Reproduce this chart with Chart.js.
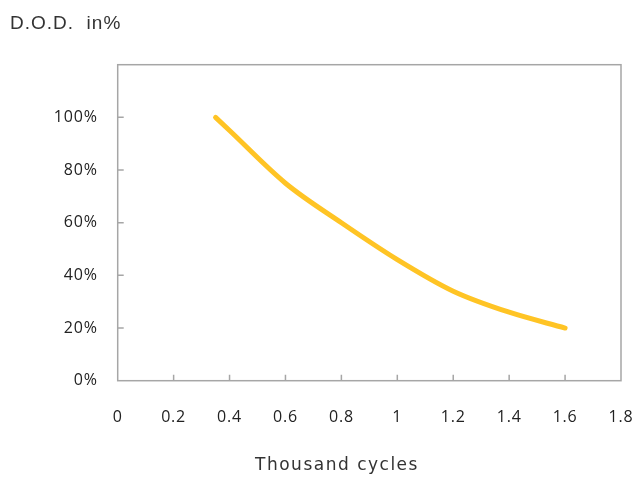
<!DOCTYPE html>
<html>
<head>
<meta charset="utf-8">
<script src="https://cdn.jsdelivr.net/npm/chart.js@4.4.1/dist/chart.umd.min.js"></script>
<style>
  html, body { margin: 0; padding: 0; background: #fff; }
</style>
</head>
<body>
<canvas id="dodChart" width="635" height="477"></canvas>
<script>
// cycles (thousands) vs depth of discharge
const cycles = [0.35, 0.4, 0.6, 0.8, 1.0, 1.2, 1.4, 1.6];
const dodValues = [100, 95, 75, 60, 46, 34, 26, 20];

const xTicks = [0, 0.2, 0.4, 0.6, 0.8, 1, 1.2, 1.4, 1.6, 1.8];
const yTicks = [0, 20, 40, 60, 80, 100, 120];

const yTitle = 'D.O.D.  in%';
const xTitle = 'Thousand cycles';

let points = [];
for (let i = 0; i < cycles.length; i++) {
    points.push({x: cycles[i], y: dodValues[i]});
}

// slightly spaced tick labels like the original
const spacingPlugin = {
    id: 'spacing',
    beforeDraw(chart) {
        chart.ctx.letterSpacing = '0.8px';
    }
};

// frame, inward tick marks and the two free-standing titles
const framePlugin = {
    id: 'frame',
    afterDraw(chart) {
        const ctx = chart.ctx;
        const area = chart.chartArea;
        const xs = chart.scales.x;
        const ys = chart.scales.y;
        ctx.save();
        ctx.letterSpacing = '0px';
        ctx.strokeStyle = '#a6a6a6';
        ctx.lineWidth = 1.5;
        ctx.strokeRect(area.left, area.top, area.right - area.left, area.bottom - area.top);

        ctx.beginPath();
        for (const v of xTicks) {
            if (v === xTicks[0] || v === xTicks[xTicks.length - 1]) continue;
            const px = xs.getPixelForValue(v);
            ctx.moveTo(px, area.bottom);
            ctx.lineTo(px, area.bottom - 6);
        }
        for (const v of yTicks) {
            if (v === yTicks[0] || v === yTicks[yTicks.length - 1]) continue;
            const py = ys.getPixelForValue(v);
            ctx.moveTo(area.left, py);
            ctx.lineTo(area.left + 6, py);
        }
        ctx.stroke();

        ctx.fillStyle = '#333';
        ctx.textBaseline = 'middle';
        ctx.textAlign = 'left';
        ctx.font = '19px "Liberation Sans", Arial, sans-serif';
        ctx.letterSpacing = '1px';
        ctx.fillText(yTitle, 10, 24);

        ctx.textAlign = 'center';
        ctx.font = '17px "DejaVu Sans", sans-serif';
        ctx.letterSpacing = '1.5px';
        ctx.fillText(xTitle, 337, 466);
        ctx.restore();
    }
};

const tickFont = {family: '"Open Sans", sans-serif', size: 16};

new Chart(document.getElementById('dodChart'), {
    type: 'line',
    data: {
        datasets: [{
            data: points,
            borderColor: '#ffc425',
            borderWidth: 5,
            borderCapStyle: 'round',
            pointRadius: 0,
            cubicInterpolationMode: 'monotone',
            fill: false
        }]
    },
    options: {
        responsive: false,
        animation: false,
        layout: {padding: {top: 64.7, right: 14, left: 0, bottom: 0}},
        plugins: {legend: {display: false}, tooltip: {enabled: false}},
        scales: {
            x: {
                type: 'linear',
                min: 0,
                max: 1.8,
                afterFit(scale) {
                    scale.height = 96.3;
                    scale.paddingLeft = 0;
                    scale.paddingRight = 0;
                },
                afterBuildTicks(scale) { scale.ticks = xTicks.map(v => ({value: v})); },
                grid: {display: false, drawTicks: false},
                border: {display: false},
                ticks: {
                    padding: 27,
                    color: '#222',
                    font: tickFont,
                    maxRotation: 0,
                    autoSkip: false,
                    callback: v => String(Number(v.toFixed(1)))
                }
            },
            y: {
                min: 0,
                max: 120,
                afterFit(scale) {
                    scale.width = 117.7;
                    scale.paddingTop = 0;
                    scale.paddingBottom = 0;
                },
                afterBuildTicks(scale) { scale.ticks = yTicks.map(v => ({value: v})); },
                grid: {display: false, drawTicks: false},
                border: {display: false},
                ticks: {
                    padding: 20,
                    color: '#222',
                    font: tickFont,
                    callback: v => v === 120 ? '' : v + '%'
                }
            }
        }
    },
    plugins: [spacingPlugin, framePlugin]
});
</script>
</body>
</html>
